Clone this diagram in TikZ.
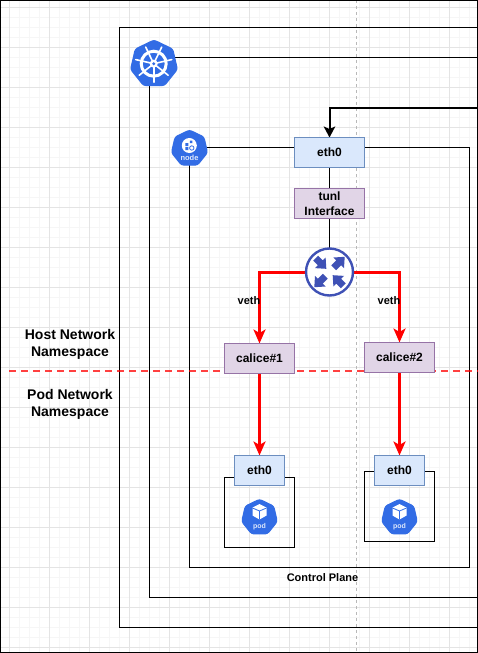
\documentclass[tikz,border=0pt]{standalone}
\usepackage{fontspec}
\setmainfont{Liberation Sans}
\usetikzlibrary{arrows.meta,shapes.geometric}
\definecolor{kblue}{HTML}{326CE5}
\definecolor{rblue}{HTML}{3F51B5}
\definecolor{gridmaj}{HTML}{E4E4E4}
\definecolor{gridmin}{HTML}{F6F6F6}
\definecolor{ethfill}{HTML}{DAE8FC}
\definecolor{ethline}{HTML}{6C8EBF}
\definecolor{purfill}{HTML}{E1D5E7}
\definecolor{purline}{HTML}{9673A6}
\pgfdeclarelayer{wires}
\pgfdeclarelayer{back}
\pgfsetlayers{back,wires,main}
\tikzset{
  boxtext/.style={rectangle,outer sep=0pt,inner sep=0pt,align=center,minimum height=30pt,font=\bfseries\fontsize{12}{15}\selectfont},
  ethbox/.style={boxtext,draw=ethline,fill=ethfill},
  purplebox/.style={boxtext,draw=purline,fill=purfill,minimum width=70pt},
  framebox/.style={rectangle,draw=black,outer sep=0pt,inner sep=0pt,minimum width=70pt,minimum height=70pt},
  wire/.style={draw=black,line width=1pt},
  heavywire/.style={draw=black,line width=2pt,-{Stealth[length=11pt,width=11.5pt,inset=2.5pt]}},
  redwire/.style={draw=red,line width=3pt,-{Stealth[length=14pt,width=12pt,inset=3.5pt]}},
  hepta/.style={regular polygon,regular polygon sides=7,fill=kblue,draw=kblue,line width=1pt,rounded corners=2.5pt,inner sep=0pt,outer sep=0pt,minimum size=#1},
  iconlabel/.style={text=white!85!kblue,inner sep=0pt,font=\bfseries\fontsize{#1}{#1}\selectfont},
  txt/.style={inner sep=0pt,align=center,font=\bfseries\fontsize{#1}{17}\selectfont},
  podicon/.pic={
    \fill[white] (0,-8) -- (7,-4.5) -- (7,3.5) -- (0,7.5) -- (-7,3.5) -- (-7,-4.5) -- cycle;
    \draw[kblue,line width=.8pt] (-7,-4) -- (0,-1) -- (7,-4) (0,-1) -- (0,7.5);
  }
}
\newcommand{\routerarrow}[3]{% angle, from radius, to radius (pt)
  \begin{scope}[shift={(329.5,272)},rotate=#1]
    \fill[rblue] (#2,-3.5) -- (#3-8.5,-3.5) -- (#3-8.5,-7.5) -- (#3,0) -- (#3-8.5,7.5) -- (#3-8.5,3.5) -- (#2,3.5) -- cycle;
  \end{scope}}
\begin{document}
\begin{tikzpicture}[x=1pt,y=-1pt]
\useasboundingbox (0,0) rectangle (478,653);
\begin{pgfonlayer}{back}
\fill[white] (0,0) rectangle (478,653);
\foreach \x in {9.5,19.5,...,479} \draw[gridmin,line width=1pt] (\x,0) -- (\x,653);
\foreach \y in {7.5,17.5,...,653} \draw[gridmin,line width=1pt] (0,\y) -- (478,\y);
\foreach \x in {9.5,49.5,...,479} \draw[gridmaj,line width=1pt] (\x,0) -- (\x,653);
\foreach \y in {7.5,47.5,...,653} \draw[gridmaj,line width=1pt] (0,\y) -- (478,\y);
\coordinate (pagetop) at (356.5,0);
\coordinate (pagebot) at (356.5,653);
\draw[draw=black!28,line width=1pt,dash pattern=on 3pt off 3pt] (pagetop) -- (pagebot);
\draw[black,line width=1pt] (0.5,0.5) rectangle (477.5,652.5);
\draw[black,line width=1pt] (0.5,0) -- (0.5,653);
\end{pgfonlayer}

% nodes
\node[framebox] (podframe1) at (259.5,512.5) {};
\node[framebox] (podframe2) at (399.5,506.5) {};
\node[ethbox,minimum width=70pt] (eth0) at (329.5,152.5) {eth0};
\node[purplebox] (tunl) at (329.5,203.5) {tunl\\Interface};
\node[purplebox] (calice1) at (259.5,358.5) {calice\#1};
\node[purplebox] (calice2) at (399.5,357.5) {calice\#2};
\node[ethbox,minimum width=50pt] (podeth1) at (259.5,470.5) {eth0};
\node[ethbox,minimum width=50pt] (podeth2) at (399.5,470.5) {eth0};
\node[circle,draw=rblue,fill=white,line width=2.4pt,minimum size=47pt,inner sep=0pt,outer sep=0pt] (router) at (329.5,272) {};
\node[hepta=48pt] (kbig) at (154,64) {};
\node[hepta=37pt] (knode) at (189.5,148.5) {};
\node[hepta=36.5pt] (kpod1) at (259.5,517.5) {};
\node[hepta=36.5pt] (kpod2) at (399.5,517.5) {};

% frames and connectors, behind the nodes
\begin{pgfonlayer}{wires}
\coordinate (oTL) at (119.5,27.5);
\coordinate (oTR) at (478,27.5);
\coordinate (oBL) at (119.5,627.5);
\coordinate (oBR) at (478,627.5);
\draw[wire] (oTR) -- (oTL) -- (oBL) -- (oBR);
\coordinate (mR) at (478,57.5);
\coordinate (mStart) at (170,57.5);
\coordinate (mDown) at (149.5,80);
\coordinate (mBL) at (149.5,597.5);
\coordinate (mBR) at (478,597.5);
\draw[wire] (mStart) -- (mR);
\draw[wire] (mDown) -- (mBL) -- (mBR);
\coordinate (nStartR) at (200,147.5);
\coordinate (nTR) at (469.5,147.5);
\coordinate (nBR) at (469.5,567.5);
\coordinate (nBL) at (189.5,567.5);
\coordinate (nDown) at (189.5,160);
\draw[wire] (nStartR) -- (eth0.west |- nStartR);
\draw[wire] (eth0.east |- nTR) -- (nTR) -- (nBR) -- (nBL) -- (nDown);
\draw[wire] (eth0) -- (tunl);
\draw[wire] (tunl) -- (router);
\coordinate (inR) at (478,107.5);
\coordinate (inT) at (329.5,107.5);
\draw[heavywire] (inR) -- (inT) -- (eth0.north);
\coordinate (nsL) at (9,371);
\coordinate (nsR) at (478,371);
\draw[draw=red,opacity=.75,line width=2.4pt,dash pattern=on 6.5pt off 5.5pt] (nsL) -- (nsR);
\draw[redwire] (router.west) -| (calice1.north);
\draw[redwire] (router.east) -| (calice2.north);
\draw[redwire] (calice1.south) -- (podeth1.north);
\draw[redwire] (calice2.south) -- (podeth2.north);
\end{pgfonlayer}

% router arrows: two pointing out, two pointing in
\routerarrow{45}{6}{21.5}
\routerarrow{225}{6}{21.5}
\routerarrow{-45}{-19.5}{-4.5}
\routerarrow{135}{-19.5}{-4.5}

% helm wheel
\begin{scope}[shift={(153.7,63.7)}]
  \draw[white,line width=3pt] (0,0) circle (12.5);
  \foreach \k in {0,...,6}
    \draw[white,line width=1.6pt,line cap=round] (0,0) -- ++({90+\k*51.43}:18.5);
  \fill[white] (0,0) circle (4);
  \fill[kblue] (0,0) circle (1.6);
\end{scope}
% node icon glyph
\begin{scope}[shift={(189.3,145.5)}]
  \fill[white] (0,0) circle (7.5);
  \fill[kblue] (-4,-2.5) rectangle (-1,0.5) (0.5,-5) rectangle (3,-2.5) (-4,1.5) rectangle (-1,4.5);
  \draw[kblue,line width=.8pt] (2.5,2.5) circle (2.2);
\end{scope}
\node[iconlabel=7.5] (nodetext) at (189.5,157.7) {node};
% pods
\pic at (259.5,512) {podicon};
\pic at (399.5,512) {podicon};
\node[iconlabel=7] (podtext1) at (259.5,526.6) {pod};
\node[iconlabel=7] (podtext2) at (399.5,526.6) {pod};

% labels
\node[txt=14] (hostns) at (70,344) {Host Network\\Namespace};
\node[txt=14] (podns) at (70,404) {Pod Network\\Namespace};
\node[txt=11] (veth1) at (249,301) {veth};
\node[txt=11] (veth2) at (389,301) {veth};
\node[txt=11] (cplane) at (322.5,578) {Control Plane};
\end{tikzpicture}
\end{document}
